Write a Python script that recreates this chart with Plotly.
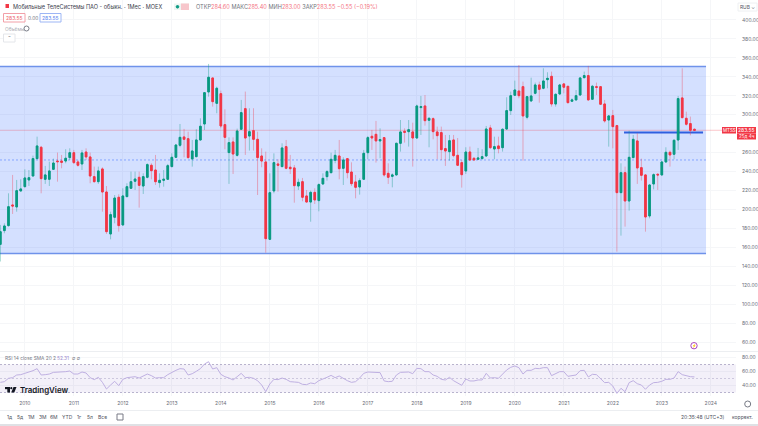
import plotly.graph_objects as go

W, H = 758, 426
PLOT_W = 736

# Monthly candles, 2009-07 .. 2023-09
months = [f"{2009 + (6 + i) // 12}-{(6 + i) % 12 + 1:02d}" for i in range(171)]
years = [str(y) for y in range(2010, 2025)]

opens = [163.1,177.6,182.9,204.7,202.6,219.5,224,231.1,235.3,253.6,265.6,231.8,231.8,242.3,251.1,251.1,251.1,254.7,259.9,250.1,
248,260.6,255.4,234.6,229.3,242.7,218.4,174.1,191.7,212.8,183.6,213.5,222.3,229.7,233.9,224.7,233.9,246.6,241.6,228.3,
230.7,231.8,245.2,255,267.7,276.5,274.7,253.3,255.7,273.3,290.2,324,338.8,312,322.2,289.5,260,271.2,257.1,284.6,
306.4,277.5,283.2,274,256.4,250.1,168.4,219.5,248,245.2,266.3,244.5,243.8,224.7,229.3,214.2,207.8,218,209.3,226.9,
234.6,238.8,251.8,256.4,243.4,253.6,239.5,229,223.7,231.8,259.9,277.2,279.3,272.3,275.8,238.1,234.9,236.4,269.8,282.5,
282.1,281.8,275.4,307.5,309.2,294.1,295.8,281.8,281.1,264.2,261,273.3,257.1,249.4,240.6,260.6,254,252.9,253.6,256.4,
286,263.8,267,265.2,284.9,304.3,320.5,325,329.6,297.3,314.5,322.6,331.4,327.9,337,340.5,311.3,321.9,332.5,330,
314.2,315.6,320.8,339.1,341.3,316.3,329.6,329.6,311.3,294.4,299,288.5,217.7,238.8,208.9,254.7,272.3,244.1,236.4,193.1,
226.9,237.1,236.4,250.1,260.3,258.2,273.3,317.7,296.2,290.6,284.6]
highs = [183.6,185.3,217,236.4,231.1,231.8,242.3,241.6,256.8,276.8,267,245.9,250.4,253.6,260,257.5,263.5,264.5,262.8,252.2,
262.8,264.5,260,245.2,245.2,244.5,224.7,197.6,215.2,216,222.3,227.6,239.9,239.9,239.9,238.1,248.7,248.7,257.5,238.1,
241.6,248,259.2,269.1,290.2,285,282.1,273.3,284.6,296.2,323.3,353.6,338.8,329.6,325.4,305.7,276.1,276.1,285.3,315.6,
324.4,306.8,306.8,282.1,264.5,261,238.1,259.2,252.9,269.8,273.3,257.5,246.9,232.5,233.2,220.5,219.8,222.3,227.6,238.1,
241.6,259.9,262.8,273.3,255,254.3,249.7,236.4,232.8,262.8,277.5,283.9,293.4,285.6,276.1,248.7,238.1,270.5,294.4,285.6,
294.4,291.6,310.6,319.8,320.8,297.3,297.3,287.4,287.4,278.6,278.6,278.6,275.4,252.2,265.6,266.3,255,264.9,263.5,288.1,
289.2,276.8,276.8,285.6,318.4,324.4,336,352.5,334.9,319.8,339.1,333.9,334.9,349,344.8,345.5,322.6,332.5,333.2,330.3,
317.3,326.1,339.5,345.5,351.5,331.4,333.9,330.3,315.6,299.7,305,289.2,248.7,245.2,283.2,278.6,280.4,253.6,237.1,226.5,
238.1,238.1,250.8,265.6,262.1,274,319.8,349,303.2,298,285.4]
lows = [145,174.8,181.8,195.2,197.6,218.8,223.3,224.7,234.6,252.9,217,226.9,224.7,241.6,229.3,243.4,248.7,252.2,248,245.2,
241.6,252.2,227.6,228.3,226.9,197.6,174.1,168.4,185.3,176.5,182.9,212.8,221.6,220.5,201.9,216.3,232.8,231.8,225.8,223,
224,231.1,244.5,254.3,265.6,255,253.6,245.2,255,272.6,283.9,319.1,308.5,301.5,285.6,263.5,226.9,237.4,255.7,283.9,
257.5,262.1,262.1,215.2,244.5,154.3,167.7,217,218.8,244.5,242.3,237.4,207.1,220.5,208.6,207.1,187,205.7,198,225.8,
230.4,238.1,248.7,231.8,225.8,232.8,224.7,211.7,215.6,231.8,252.9,262.8,249.4,254,234.6,226.9,223.3,235.7,261,270.5,
266.3,245.2,274.7,278.6,288.5,265.6,274,252.9,252.2,245.9,251.5,255,245.9,223,237.4,251.1,251.5,252.2,252.9,255.7,
263.8,252.9,259.2,261,283.9,299.7,319.8,317.3,251.5,295.1,313.8,321.5,312.7,326.8,327.9,308.5,308.5,320.8,322.6,312,
313.8,314.9,320.1,338.4,314.9,315.6,320.8,310.3,291.6,266.3,264.5,155.4,172.3,181.8,198.7,254,226.9,230.4,176.5,190.6,
221.2,220.5,235.7,249.4,245.2,252.9,262.8,296.2,288.5,278.2,283]
closes = [176.5,182.5,202.9,203.6,219.8,221.6,233.2,233.5,253.6,267,232.5,236.4,240.6,249,250.4,249.7,254,259.9,249.4,246.6,
259.6,255.4,235.3,229.3,240.6,218.4,176.5,194.5,212,182.9,214.2,224,229.3,232.1,225.4,234.6,247.3,240.9,229.3,230.7,
231.8,246.2,255,268,276.1,274,254.7,261.7,273.3,287.8,323.3,339.5,313.8,327.9,288.1,276.1,270.5,258.5,282.8,302.2,
275.4,282.1,274,254.7,251.1,169.1,217.7,249.4,246.6,264.9,243.4,243,225.1,228.6,212.8,207.8,218,210,226.2,232.8,
239.9,252.9,257.1,243,252.2,238.8,227.2,223.3,230.4,259.2,275.8,275.4,272.3,273.7,236.4,233.9,236.4,269.8,281.8,281.4,
284.2,275.4,309.2,308.5,293.7,296.2,282.1,277.9,263.1,261.7,272.6,256.8,246.6,236.7,260.6,252.2,252.2,254.3,255.7,284.9,
265.2,266.3,264.2,284.6,304.3,320.1,326.1,320.1,298.7,319.1,319.8,331.4,326.8,335.6,338.4,311.3,321.5,331.4,329,312.7,
315.6,320.1,338.8,341.3,315.6,330,328.9,311,293.4,298.7,287.4,217.7,238.8,208.9,255,274,243.8,236,192,225.8,
236.7,236.4,250.1,260.3,257.5,273,317,296.9,289.9,283.5,283.55]
rsi = [44.5,45.5,50.3,51.2,55,55.5,57.4,58.8,61.2,64.1,55,55.5,56.4,58.8,58.8,59.3,59.8,60.7,56.4,56.4,
59.3,57.9,51.2,48.4,51.7,44.5,35,40.7,46,39.8,48.8,51.2,52.2,52.6,50.7,53.6,56.4,54.1,50.7,51.2,
51.2,55.5,58.8,61.7,64.1,63.6,55,56.9,60.3,64.1,70.7,74,63.6,65.5,56,52.6,50.7,47.9,52.6,57.4,
51.2,51.7,50.3,46.9,40.7,31.2,42.2,48.8,48.4,50.7,48.8,45.5,45,44.5,41.7,41.2,43.6,42.6,46.9,48.8,
51.7,54.5,51.2,53.6,49.8,46.9,44.5,45.5,50.7,57.4,59.3,59.3,58.8,58.4,46.5,45.5,46,55,58.8,59.3,
59.3,56.9,64.5,64.1,59.8,59.8,55,53.1,48.8,47.9,51.7,46.9,43.1,40.3,49.3,46.5,46.5,47.9,47.9,57.4,
50.7,51.2,50.3,56,62.2,66,67.9,65.5,56.4,61.7,61.7,64.5,64.1,65.5,65.5,54.1,57.4,59.8,59.8,53.1,
54.1,55,61.2,61.7,52.2,56,55.5,50.3,44.1,44.5,39.3,28.8,36,31.2,44.1,46.9,42.6,40.7,34.6,40.7,
44.1,44.5,46,48.8,48.8,50.7,59.8,55.5,53.6,52.6,52.31]

price_ticks = [400,380,360,340,320,300,260,240,220,200,180,160,140,120,100,80,60]
rsi_ticks = [80,60,40]
channel_top, channel_bottom, channel_mid = 351, 153.5, 252.2
support_level = 281.3
last_price = 283.55
rsi_upper, rsi_mid, rsi_lower = 70, 50, 30

GREEN, RED = "#089981", "#f23645"
GREEN_W, RED_W = "rgba(8,153,129,0.38)", "rgba(242,54,69,0.36)"
GRID = "#f5f6f8"
TXT = "#50535e"

xs = list(range(len(months)))
year_pos = [6 + 12 * (int(y) - 2010) for y in years]
xrange_ = [-0.08, 180.17]

def ppx(x): return x / PLOT_W
def ppy(y): return 1 - y / H
def xi(x): return (x - 0.33) / 4.083

fig = go.Figure()
# wicks
fig.add_trace(go.Candlestick(x=xs, open=opens, high=highs, low=lows, close=closes, xaxis="x", yaxis="y",
    increasing=dict(line=dict(color=GREEN_W, width=1), fillcolor="rgba(0,0,0,0)"),
    decreasing=dict(line=dict(color=RED_W, width=1), fillcolor="rgba(0,0,0,0)"),
    whiskerwidth=0, hoverinfo="skip", showlegend=False))
# bodies
fig.add_trace(go.Candlestick(x=xs, open=opens, close=closes,
    high=[max(a, b) for a, b in zip(opens, closes)], low=[min(a, b) for a, b in zip(opens, closes)],
    xaxis="x", yaxis="y",
    increasing=dict(line=dict(color=GREEN, width=1), fillcolor=GREEN),
    decreasing=dict(line=dict(color=RED, width=1), fillcolor=RED),
    whiskerwidth=0, hoverinfo="skip", showlegend=False))
fig.add_trace(go.Scatter(x=xs, y=rsi, mode="lines", xaxis="x2", yaxis="y2",
    line=dict(color="#bfb0e2", width=1), hoverinfo="skip", showlegend=False))

shapes = [
    dict(type="rect", xref="x", yref="y", x0=xrange_[0], x1=xi(706), y0=channel_bottom, y1=channel_top,
         fillcolor="rgba(41,98,255,0.2)", line=dict(width=0), layer="between"),
    dict(type="line", xref="x", yref="y", x0=xrange_[0], x1=xi(706), y0=channel_top, y1=channel_top,
         line=dict(color="#6f92ea", width=1.5), layer="between"),
    dict(type="line", xref="x", yref="y", x0=xrange_[0], x1=xi(706), y0=channel_bottom, y1=channel_bottom,
         line=dict(color="#6f92ea", width=1.5), layer="between"),
    dict(type="line", xref="x", yref="y", x0=xrange_[0], x1=xi(706), y0=channel_mid, y1=channel_mid,
         line=dict(color="rgba(41,98,255,0.45)", width=1, dash="2px,2px"), layer="between"),
    dict(type="line", xref="x", yref="y", x0=xi(624), x1=xi(703), y0=support_level, y1=support_level,
         line=dict(color="#2f5fe0", width=2), layer="between"),
    dict(type="line", xref="x", yref="y", x0=xrange_[0], x1=xrange_[1], y0=last_price, y1=last_price,
         line=dict(color="rgba(242,54,69,0.28)", width=1), layer="between"),
    # RSI band
    dict(type="rect", xref="x2", yref="y2", x0=xrange_[0], x1=xrange_[1], y0=rsi_lower, y1=rsi_upper,
         fillcolor="rgba(126,87,194,0.09)", line=dict(width=0), layer="between"),
]
for lv in (rsi_upper, rsi_mid, rsi_lower):
    shapes.append(dict(type="line", xref="x2", yref="y2", x0=xrange_[0], x1=xrange_[1], y0=lv, y1=lv,
                       line=dict(color="rgba(120,110,160,0.5)" if lv != rsi_mid else "rgba(120,110,160,0.3)",
                                 width=1, dash="2px,2px"), layer="between"))

def rect(x0, y0, x1, y1, fill="rgba(0,0,0,0)", line=None, lw=1):
    shapes.append(dict(type="rect", xref="paper", yref="paper", x0=ppx(x0), x1=ppx(x1), y0=ppy(y1), y1=ppy(y0),
                       fillcolor=fill, line=dict(color=line or "rgba(0,0,0,0)", width=lw if line else 0)))
def hline(y, x0=0, x1=W, color="#eceef1", lw=1):
    shapes.append(dict(type="line", xref="paper", yref="paper", x0=ppx(x0), x1=ppx(x1), y0=ppy(y), y1=ppy(y),
                       line=dict(color=color, width=lw)))
def circle(cx, cy, r, line, lw=1, fill="rgba(0,0,0,0)"):
    shapes.append(dict(type="circle", xref="paper", yref="paper", x0=ppx(cx - r), x1=ppx(cx + r),
                       y0=ppy(cy + r), y1=ppy(cy - r), fillcolor=fill, line=dict(color=line, width=lw)))

hline(351.5); hline(410.5); hline(425, color="#dfe1e5", lw=2)
rect(5.5, 4, 9, 8, fill=RED)                 # symbol marker
rect(174, 3.5, 189, 10, fill="#eef6f3")
circle(177.5, 6.8, 1.3, GREEN, 1, GREEN)
rect(181, 3.5, 189, 10, fill="#f7c6cb")
rect(3.5, 13.5, 25, 22, fill="#ffffff", line="#f2a0a8")
rect(40, 13.5, 61, 22, fill="#ffffff", line="#9db6f5")
rect(3.5, 34, 15, 42, fill="#ffffff", line="#e4e6ea")
circle(26.5, 28.5, 2.5, "#787b86", 1)
rect(738, 3, 757, 11, fill="#ffffff", line="#eef0f2")
# last price flags
rect(722, 127, 736, 133.5, fill=RED)
rect(737, 127, 756, 133.5, fill=RED)
rect(737, 133.5, 756, 139.5, fill=RED)
circle(694, 345.7, 3.2, "#ab47bc", 1, "#ffffff")
circle(747.7, 404, 3, "#787b86", 1)
rect(117, 414, 123, 420, line="#787b86")
# TradingView logo
rect(5, 387, 10, 389.2, fill="#131722")
rect(7.3, 387, 10, 392.5, fill="#131722")
circle(11.3, 388.2, 1.1, "#131722", 0, "#131722")
shapes.append(dict(type="path", xref="paper", yref="paper", line=dict(width=0), fillcolor="#131722",
    path=f"M {ppx(13.5)} {ppy(387)} L {ppx(16.5)} {ppy(387)} L {ppx(14.3)} {ppy(392.5)} L {ppx(11.2)} {ppy(392.5)} Z"))

def text(x, y, s, size=5.2, color=TXT, anchor="left", weight=None, family="Inter, Roboto, sans-serif"):
    return dict(xref="paper", yref="paper", x=ppx(x), y=ppy(y), text=s, showarrow=False,
                xanchor=anchor, yanchor="middle", align=anchor, borderpad=0,
                font=dict(size=size, color=color, family=family, weight=weight or 400))

def r(s): return f'<span style="color:#f4747f">{s}</span>'
ann = [
    text(12, 6.8, "Мобильные ТелеСистемы ПАО - обыкн. · 1Мес · MOEX", 5.6, "#3c404c"),
    text(195, 6.8, "ОТКР" + r("284.60") + " МАКС" + r("285.40") + " МИН" + r("283.00") + " ЗАКР" + r("283.55 −0.55 (−0.19%)"), 5.6, "#70737d"),
    text(14.2, 17.8, "283.55", 5, "#ec5f6b", "center"),
    text(32.5, 17.8, "0.00", 4.8, "#70737d", "center"),
    text(50.5, 17.8, "283.55", 5, "#5b84ee", "center"),
    text(4, 28.5, "Объёмы", 4.8, "#a9abb3"),
    text(9.2, 38.5, "ˆ", 7, "#50535e", "center"),
    text(747.5, 7, "RUB ⌄", 4.8, "#50535e", "center"),
    text(729, 130.3, "MTSS", 4.5, "#ffffff", "center"),
    text(746.5, 130.3, "283.55", 5, "#ffffff", "center"),
    text(746.5, 136.5, "25д 4ч", 4.6, "#ffffff", "center"),
    text(694, 345.7, "⚡", 3.5, "#ab47bc", "center"),
    text(4, 357.5, "RSI 14 close SMA 20 2", 4.8, "#787b86"),
    text(56, 357.5, "52.31", 4.8, "#9a86cc"),
    text(71, 357.5, "∅ ∅", 4.8, "#787b86"),
    text(19, 389.7, "TradingView", 7.9, "#131722", weight=600),
    text(680, 417, "20:35:48 (UTC+3)", 5, TXT),
    text(731, 417, "коррект.", 5, TXT),
]
for lx, lab in zip([9, 19.5, 31, 42.5, 54, 67, 79.5, 90, 102], ["1д", "5д", "1М", "3М", "6М", "YTD", "1г", "5л", "Все"]):
    ann.append(text(lx, 417, lab, 5, TXT, "center"))

axis_font = dict(size=5, color="#6a6d78", family="Inter, Roboto, sans-serif")
common_x = dict(range=xrange_, tickmode="array", tickvals=year_pos, showgrid=True, gridcolor=GRID, gridwidth=1,
                zeroline=False, showline=False, rangeslider=dict(visible=False), fixedrange=True)
fig.update_layout(
    width=W, height=H, margin=dict(l=0, r=W - PLOT_W, t=0, b=0), autosize=False,
    paper_bgcolor="#ffffff", plot_bgcolor="#ffffff", showlegend=False, boxgap=0.42, boxmode="overlay",
    shapes=shapes, annotations=ann, hovermode=False,
    xaxis=dict(anchor="y", domain=[0, 1], showticklabels=False, ticks="", **common_x),
    xaxis2=dict(anchor="y2", domain=[0, 1], ticktext=years, ticks="outside", ticklen=2, tickcolor="rgba(0,0,0,0)",
                tickfont=axis_font, **common_x),
    yaxis=dict(domain=[ppy(351), 1], range=[50.5, 421.1], side="right", anchor="x", tickmode="array",
               tickvals=price_ticks, tickformat=".2f", tickfont=axis_font, showgrid=True, gridcolor=GRID, gridwidth=1,
               zeroline=False, showline=False, ticks="outside", ticklen=4, tickcolor="rgba(0,0,0,0)", fixedrange=True),
    yaxis2=dict(domain=[ppy(396), ppy(352)], range=[25, 87.9], side="right", anchor="x2", tickmode="array",
                tickvals=rsi_ticks, tickformat=".2f", tickfont=axis_font, showgrid=True, gridcolor=GRID, gridwidth=1,
                zeroline=False, showline=False, ticks="outside", ticklen=4, tickcolor="rgba(0,0,0,0)", fixedrange=True),
)
fig.write_html("out.html", config=dict(displayModeBar=False),
               post_script="document.body.style.margin='0';document.documentElement.style.overflow='hidden';")
